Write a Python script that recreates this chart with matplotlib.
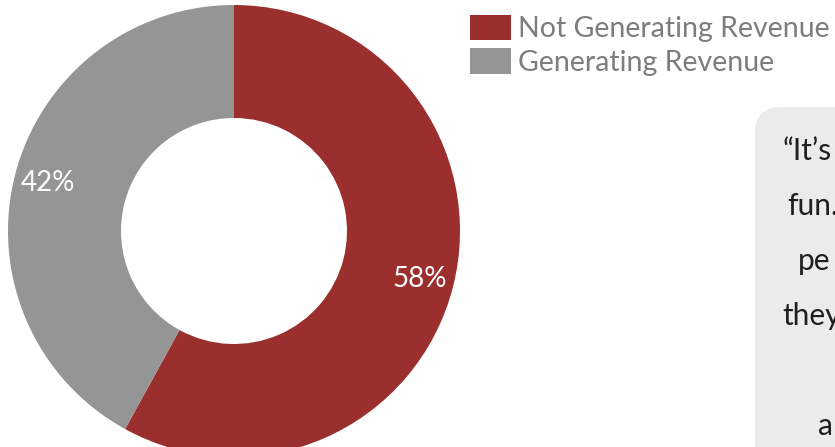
import matplotlib
matplotlib.use("Agg")
import matplotlib.pyplot as plt
from matplotlib.patches import FancyBboxPatch

# ---- data ----
categories = ["Not Generating Revenue", "Generating Revenue"]
values = [58, 42]
colors = ["#9b2f2d", "#959595"]
quote_lines = ["\u201cIt\u2019s", "fun.", "pe", "they", "a"]

plt.rcParams["font.family"] = ["Lato", "DejaVu Sans"]

W, H = 835, 447
fig = plt.figure(figsize=(W / 100, H / 100), dpi=100)
fig.patch.set_facecolor("white")

# background overlay axes in pixel coordinates (for the quote box)
bg = fig.add_axes([0, 0, 1, 1], zorder=0)
bg.set_xlim(0, W)
bg.set_ylim(H, 0)
bg.axis("off")

box = FancyBboxPatch((755, 107), 200, 400,
                     boxstyle="round,pad=0,rounding_size=26",
                     facecolor="#ebebeb", edgecolor="none")
bg.add_patch(box)

quote_x = [783, 787, 798, 782, 818]
base_y0, pitch = 160, 55
for i, (s, x) in enumerate(zip(quote_lines, quote_x)):
    yy = base_y0 + pitch * (i if i < 4 else 5)
    bg.text(x, yy, s, fontsize=21.5, color="#1e1e1e", ha="left",
            va="baseline")

# donut axes
cx, cy, R = 234, 231, 226
ax = fig.add_axes([(cx - R) / W, (H - cy - R) / H, 2 * R / W, 2 * R / H],
                  zorder=1)
wedges, texts, autotexts = ax.pie(
    values, colors=colors, startangle=90, counterclock=False,
    wedgeprops=dict(width=0.5, linewidth=0),
    autopct=lambda p: f"{round(p)}%", pctdistance=0.85,
    textprops=dict(color="white", fontsize=20))
ax.set_xlim(-1, 1)
ax.set_ylim(-1, 1)
ax.set_aspect("equal")
ax.axis("off")

leg = fig.legend(wedges, categories, loc="upper left",
                 bbox_to_anchor=(470 / W, 1 - 15 / H),
                 frameon=False, prop=dict(size=20.5),
                 handlelength=1.45, handleheight=1.0, handletextpad=0.25,
                 labelspacing=0.2,
                 borderpad=0, borderaxespad=0, labelcolor="#7d7d7d")

fig.savefig("out.png", dpi=100)
